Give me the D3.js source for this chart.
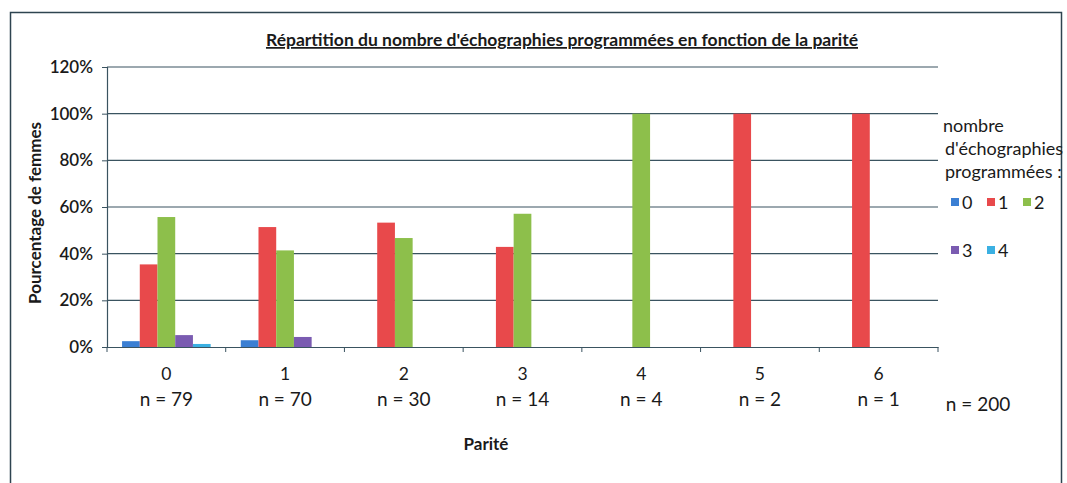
<!DOCTYPE html>
<html>
<head>
<meta charset="utf-8">
<script src="https://cdn.jsdelivr.net/npm/d3@7"></script>
<style>
    body { margin: 0; background: #fff; }
    text { font-family: Lato, "Open Sans", sans-serif; fill: #1a1a1a; }
</style>
</head>
<body>
<svg id="chart"></svg>
<script>
// parité categories and the number of women in each
var parites = ["0", "1", "2", "3", "4", "5", "6"];
var effectifs = [79, 70, 30, 14, 4, 2, 1];
var totalN = 200;

// nombre d'échographies programmées (series), % of women per parité
var series = ["0", "1", "2", "3", "4"];
var pct0 = [2.5, 2.9, 0, 0, 0, 0, 0];
var pct1 = [35.4, 51.4, 53.3, 42.9, 0, 100, 100];
var pct2 = [55.7, 41.4, 46.7, 57.1, 100, 0, 0];
var pct3 = [5.1, 4.3, 0, 0, 0, 0, 0];
var pct4 = [1.3, 0, 0, 0, 0, 0, 0];
var yTicks = [0, 20, 40, 60, 80, 100, 120];

var colors = ["#3b7fd3", "#e8494b", "#8dbf4b", "#7a5bb1", "#3bb0e2"];

function init() {
    var w = 1067;
    var h = 483;
    var left = 107, right = 938, top = 67, bottom = 347;
    var values = [pct0, pct1, pct2, pct3, pct4];

    var svg = d3.select("#chart")
        .attr("width", w)
        .attr("height", h);

    // outer frame (bottom edge is cut off in the scan)
    svg.append("rect")
        .attr("x", 10.5)
        .attr("y", 12.5)
        .attr("width", 1051)
        .attr("height", 500)
        .attr("fill", "none")
        .attr("stroke", "#2e4450")
        .attr("stroke-width", 1.5);

    var xScale = d3.scaleBand()
        .domain(parites)
        .range([left, right]);

    var xInner = d3.scaleBand()
        .domain(series)
        .range([0, xScale.bandwidth()])
        .paddingOuter(0.85);

    var yScale = d3.scaleLinear()
        .domain([0, 120])
        .range([bottom, top]);

    // gridlines
    svg.append("g")
        .selectAll("line")
        .data(yTicks.slice(1))
        .enter()
        .append("line")
        .attr("x1", left)
        .attr("x2", right)
        .attr("y1", function (d) { return yScale(d); })
        .attr("y2", function (d) { return yScale(d); })
        .attr("stroke", "#3a5360")
        .attr("stroke-width", 1.2);

    // y axis
    var yAxis = d3.axisLeft(yScale)
        .tickValues(yTicks)
        .tickSize(5)
        .tickFormat(function (d) { return d + "%"; });

    var gy = svg.append("g")
        .attr("transform", "translate(" + left + ",0)")
        .call(yAxis);
    gy.select(".domain").attr("stroke", "#3a5360").attr("stroke-width", 1.2);
    gy.selectAll(".tick line").attr("stroke", "#3a5360");
    gy.selectAll("text")
        .attr("x", -14)
        .style("font-size", "17px")
        .style("font-weight", "600")
        .attr("fill", "#1a1a1a");

    // bars
    var groups = svg.append("g")
        .selectAll("g")
        .data(parites)
        .enter()
        .append("g")
        .attr("transform", function (d) { return "translate(" + xScale(d) + ",0)"; });

    groups.selectAll("rect")
        .data(function (d, i) {
            return series.map(function (s, j) { return { s: s, v: values[j][i], c: colors[j] }; });
        })
        .enter()
        .append("rect")
        .attr("x", function (d) { return xInner(d.s); })
        .attr("y", function (d) { return yScale(d.v); })
        .attr("width", xInner.bandwidth())
        .attr("height", function (d) { return bottom - yScale(d.v); })
        .attr("fill", function (d) { return d.c; });

    // x axis
    var xAxis = d3.axisBottom(xScale)
        .tickSize(0)
        .tickFormat("");
    var gx = svg.append("g")
        .attr("transform", "translate(0," + bottom + ")")
        .call(xAxis);
    gx.select(".domain").attr("stroke", "#3a5360").attr("stroke-width", 1.2);

    // category separators
    svg.append("g")
        .selectAll("line")
        .data(parites.concat(["end"]))
        .enter()
        .append("line")
        .attr("x1", function (d, i) { return left + i * xScale.step(); })
        .attr("x2", function (d, i) { return left + i * xScale.step(); })
        .attr("y1", bottom)
        .attr("y2", bottom + 5)
        .attr("stroke", "#3a5360");

    // category labels
    var labels = svg.append("g")
        .selectAll("g")
        .data(parites)
        .enter()
        .append("g")
        .attr("transform", function (d) { return "translate(" + (xScale(d) + xScale.bandwidth() / 2) + ",0)"; });

    labels.append("text")
        .attr("y", 380)
        .attr("text-anchor", "middle")
        .style("font-size", "17.5px")
        .text(function (d) { return d; });

    labels.append("text")
        .attr("y", 406)
        .attr("text-anchor", "middle")
        .style("font-size", "19px")
        .text(function (d, i) { return "n = " + effectifs[i]; });

    svg.append("text")
        .attr("x", 978)
        .attr("y", 411)
        .attr("text-anchor", "middle")
        .style("font-size", "19px")
        .text("n = " + totalN);

    // title
    svg.append("text")
        .attr("x", 562)
        .attr("y", 46)
        .attr("text-anchor", "middle")
        .style("font-size", "17.5px")
        .style("font-weight", "bold")
        .style("text-decoration", "underline")
        .text("Répartition du nombre d'échographies programmées en fonction de la parité");

    // axis titles
    svg.append("text")
        .attr("x", 486)
        .attr("y", 450)
        .attr("text-anchor", "middle")
        .style("font-size", "17px")
        .style("font-weight", "bold")
        .text("Parité");

    svg.append("text")
        .attr("transform", "translate(41,213) rotate(-90)")
        .attr("text-anchor", "middle")
        .style("font-size", "17px")
        .style("font-weight", "bold")
        .text("Pourcentage de femmes");

    // legend
    var legendTitle = ["nombre", "d'échographies", "programmées :"];
    svg.append("g")
        .selectAll("text")
        .data(legendTitle)
        .enter()
        .append("text")
        .attr("x", function (d, i) { return i === 0 ? 943 : 945; })
        .attr("y", function (d, i) { return 132 + i * 23; })
        .style("font-size", "18px")
        .text(function (d) { return d; });

    var legendPos = [[951, 202], [987, 202], [1023, 202], [951, 250], [987, 250]];
    var items = svg.append("g")
        .selectAll("g")
        .data(series)
        .enter()
        .append("g")
        .attr("transform", function (d, i) { return "translate(" + legendPos[i][0] + "," + legendPos[i][1] + ")"; });

    items.append("rect")
        .attr("x", 0)
        .attr("y", -4)
        .attr("width", 8)
        .attr("height", 8)
        .attr("fill", function (d, i) { return colors[i]; });

    items.append("text")
        .attr("x", 11)
        .attr("y", 7)
        .style("font-size", "18px")
        .text(function (d) { return d; });
}
window.onload = init;
</script>
</body>
</html>
